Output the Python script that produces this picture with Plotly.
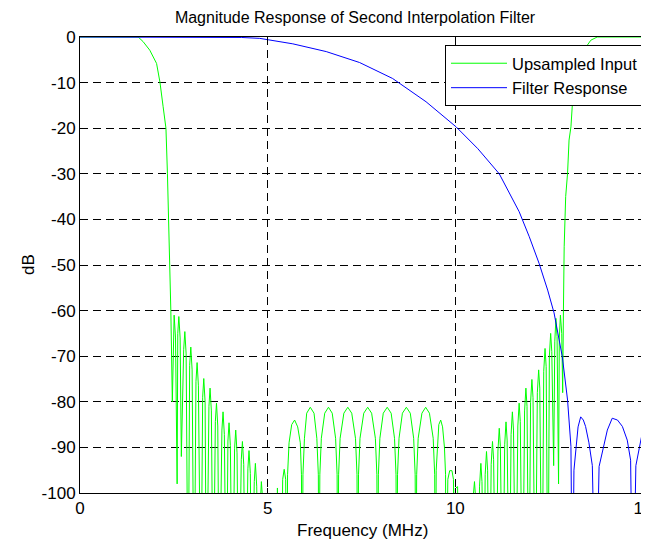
import plotly.graph_objs as go

# upsampled input spectrum (green)
freq_up = [0, 1.55, 1.68, 1.86, 2.04, 2.13, 2.215, 2.29, 2.33, 2.36, 2.39, 2.42, 2.46,
           2.49, 2.508, 2.545, 2.588,
           2.605, 2.633, 2.668, 2.70,
           2.763, 2.793, 2.828, 2.88,
           2.922, 2.952, 2.987, 3.04,
           3.09, 3.12, 3.155, 3.22,
           3.268, 3.298, 3.333, 3.37,
           3.435, 3.465, 3.50, 3.55,
           3.606, 3.636, 3.671, 3.71,
           3.781, 3.811, 3.846, 3.90,
           3.941, 3.971, 4.006, 4.06,
           4.119, 4.149, 4.184, 4.23,
           4.297, 4.327, 4.362, 4.41,
           4.473, 4.503, 4.538, 4.58,
           4.643, 4.673, 4.708, 4.76,
           4.812, 4.832, 4.862, 4.90,
           5.22, 5.26, 5.30,
           5.36, 5.40, 5.44, 5.48, 5.51,
           5.53, 5.57, 5.64, 5.718, 5.80, 5.87, 5.90, 5.92,
           5.94, 5.98, 6.04, 6.135, 6.235, 6.31, 6.35, 6.37,
           6.39, 6.43, 6.52, 6.62, 6.72, 6.81, 6.85, 6.87,
           6.89, 6.93, 7.03, 7.135, 7.24, 7.34, 7.38, 7.40,
           7.42, 7.46, 7.56, 7.665, 7.77, 7.87, 7.91, 7.93,
           7.95, 7.99, 8.08, 8.185, 8.29, 8.38, 8.42, 8.44,
           8.46, 8.50, 8.59, 8.695, 8.80, 8.89, 8.93, 8.95,
           8.97, 9.01, 9.11, 9.21, 9.31, 9.41, 9.45, 9.47,
           9.49, 9.52, 9.56, 9.61, 9.66, 9.71, 9.74, 9.75,
           9.80, 9.85, 9.91, 9.95, 9.97,
           10.0, 10.06, 10.10,
           10.43, 10.475, 10.51, 10.54, 10.59,
           10.645, 10.68, 10.71, 10.76,
           10.795, 10.83, 10.86, 10.91,
           10.955, 10.99, 11.02, 11.08,
           11.135, 11.17, 11.20, 11.26,
           11.315, 11.35, 11.38, 11.44,
           11.485, 11.52, 11.55, 11.61,
           11.665, 11.70, 11.73, 11.79,
           11.845, 11.88, 11.91, 11.96,
           12.005, 12.04, 12.07, 12.13,
           12.185, 12.22, 12.25, 12.31,
           12.355, 12.39, 12.42, 12.47,
           12.505, 12.54, 12.57, 12.62,
           12.65, 12.68, 12.71, 12.75,
           12.77, 12.80, 12.835, 12.86,
           12.88, 12.90, 12.94, 12.99, 13.03, 13.08, 13.12, 13.16, 13.24, 13.35,
           13.52, 13.61, 13.78, 15.0]
db_up = [0, 0, -1.0, -2.9, -5.8, -9.9, -15.3, -20, -30, -40, -50, -60, -80,
         -64, -61, -66, -98,
         -65, -61.3, -66, -92,
         -68.5, -64.6, -69.5, -130,
         -72, -68, -73, -130,
         -75.5, -71.4, -76.5, -130,
         -79, -74.9, -80, -130,
         -81, -77, -82, -130,
         -84.3, -80.3, -85.3, -130,
         -86.2, -82.2, -87.2, -130,
         -88.6, -84.6, -89.6, -130,
         -90.2, -86.2, -91.2, -130,
         -92.7, -88.7, -93.7, -130,
         -94.7, -90.7, -95.7, -130,
         -97.5, -93.5, -98.5, -130,
         -101, -97.5, -101, -130,
         -130, -98.9, -130,
         -130, -97, -94.8, -97, -130,
         -96, -89, -85, -84, -85.5, -89, -96, -130,
         -96, -88, -82.5, -81.2, -82.5, -88, -96, -130,
         -96, -88, -82.5, -81.2, -82.5, -88, -96, -130,
         -96, -88, -82.5, -81.2, -82.5, -88, -96, -130,
         -96, -88, -82.5, -81.2, -82.5, -88, -96, -130,
         -96, -88, -82.5, -81.2, -82.5, -88, -96, -130,
         -96, -88, -82.5, -81.2, -82.5, -88, -96, -130,
         -96, -88, -82.5, -81.2, -82.5, -88, -96, -130,
         -95, -89, -85, -84, -85.5, -90, -96, -130,
         -97, -95.1, -95.1, -97, -130,
         -99, -98.6, -130,
         -130, -101, -97.5, -101, -130,
         -98.5, -93.5, -97.5, -130,
         -96, -90.9, -95, -130,
         -93.7, -88.7, -92.7, -130,
         -90.8, -85.8, -89.8, -130,
         -89.4, -84.4, -88.4, -130,
         -87.2, -82.2, -86.2, -130,
         -85.3, -80.3, -84.3, -130,
         -82, -77.0, -81, -130,
         -80.1, -75.1, -79.1, -130,
         -78, -73.0, -77, -130,
         -73.3, -68.3, -72.3, -130,
         -70, -65.0, -69, -94,
         -66.7, -61.7, -65.7, -98,
         -66, -61, -65, -78,
         -60, -46, -35, -29.9, -22.6, -19.7, -14.5, -10, -6.5, -4,
         -1.75, -0.7, 0, 0]

# interpolation filter response (blue)
freq_filt = [0, 3.5, 4.3, 4.79, 5.67, 6.56, 7.45, 8.33, 9.22, 10.02, 10.6, 11.17,
             11.7, 11.97, 12.23, 12.46, 12.63, 12.85, 12.99, 13.08, 13.12,
             13.16, 13.21, 13.27, 13.34, 13.41, 13.47, 13.56, 13.65, 13.74,
             13.83, 13.92, 14.05, 14.18, 14.32, 14.45, 14.58, 14.67, 14.73,
             14.81, 14.89, 15.0]
db_filt = [0, 0, -0.1, -0.3, -1.5, -3.2, -5.6, -9.1, -14.2, -19.7, -24.5, -30,
           -38.3, -43.8, -49.6, -55.5, -60.5, -70.1, -79.6, -89.8, -130,
           -95, -89.8, -85.5, -83.3, -84, -85.4, -89, -94, -130,
           -94.2, -90.6, -86.2, -83.6, -84.0, -85.4, -88.4, -92.8, -130,
           -94, -90.6, -86]

x_ticks = [0, 5, 10, 15]
x_labels = ['0', '5', '10', '15']
y_ticks = [0, -10, -20, -30, -40, -50, -60, -70, -80, -90, -100]
y_labels = ['0', '-10', '-20', '-30', '-40', '-50', '-60', '-70', '-80', '-90', '-100']

trace0 = go.Scatter(
    x = freq_up,
    y = db_up,
    name = 'Upsampled Input',
    mode = 'lines',
    line = dict(color = 'rgb(0, 255, 0)', width = 1)
)
trace1 = go.Scatter(
    x = freq_filt,
    y = db_filt,
    name = 'Filter Response',
    mode = 'lines',
    line = dict(color = 'rgb(0, 0, 255)', width = 1)
)

axis_style = dict(
    showline = True, linecolor = 'black', linewidth = 1, mirror = 'ticks',
    ticks = 'inside', ticklen = 5, tickcolor = 'black',
    showgrid = True, gridcolor = 'black', gridwidth = 1, griddash = '8px,5px',
    zeroline = False, tickfont = dict(size = 17, color = 'black'),
)

# the page body adds 8px on the left/top, so the figure is 8px smaller
W, H = 641, 534
L, R, T, B = 72, 6, 29, 49
pw, ph = W - L - R, H - T - B

layout = go.Layout(
    width = W, height = H,
    margin = dict(l = L, r = R, t = T, b = B, autoexpand = False),
    paper_bgcolor = 'white', plot_bgcolor = 'white',
    font = dict(family = 'Liberation Sans, Arial, sans-serif', color = 'black', size = 16),
    title = dict(text = 'Magnitude Response of Second Interpolation Filter',
                 x = 347 / W, xref = 'container', xanchor = 'center',
                 y = 1 - 9 / H, yref = 'container', yanchor = 'middle',
                 font = dict(size = 16)),
    xaxis = dict(range = [0, 15], tickvals = x_ticks, ticktext = x_labels,
                 ticklabeloverflow = 'allow', **axis_style),
    yaxis = dict(range = [-100, 0], tickvals = y_ticks, ticktext = y_labels, **axis_style),
    showlegend = True,
    legend = dict(x = (437 - L) / pw, xanchor = 'left', y = 1 - 8 / ph, yanchor = 'top',
                  bgcolor = 'white', bordercolor = 'black', borderwidth = 1,
                  font = dict(size = 16.5), itemwidth = 56),
    annotations = [
        dict(text = 'Frequency (MHz)', x = (354 - L) / pw, y = -37 / ph,
             xref = 'paper', yref = 'paper', xanchor = 'center', yanchor = 'middle',
             showarrow = False, font = dict(size = 17)),
        dict(text = 'dB', textangle = -90, x = (20 - L) / pw, y = 0.5,
             xref = 'paper', yref = 'paper', xanchor = 'center', yanchor = 'middle',
             showarrow = False, font = dict(size = 17)),
    ],
)

figure = go.Figure(data = [trace0, trace1], layout = layout)
figure.write_html('out.html')
